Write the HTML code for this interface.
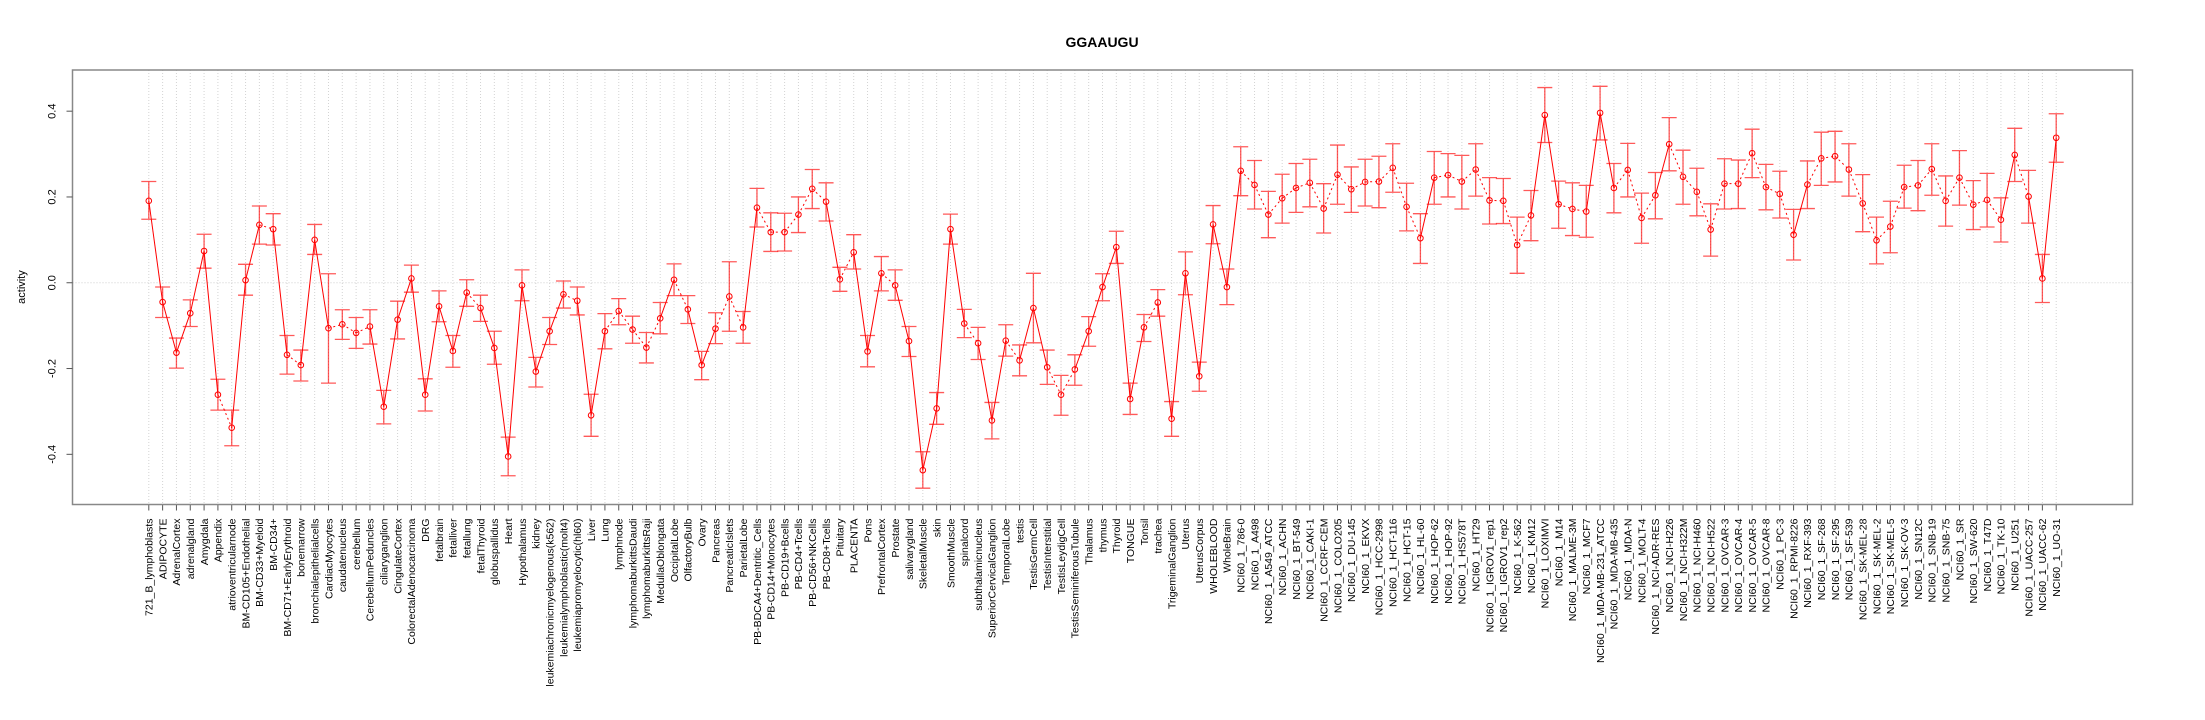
<!DOCTYPE html>
<html><head><meta charset="utf-8"><style>
html,body{margin:0;padding:0;background:#fff;}
svg{display:block;font-family:"Liberation Sans",Arial,sans-serif;}
</style></head><body>
<svg id="chart" width="2205" height="720" xmlns="http://www.w3.org/2000/svg">
<text x="1102" y="47" text-anchor="middle" font-size="14" font-weight="bold">GGAAUGU</text>
<text transform="translate(25,287) rotate(-90)" text-anchor="middle" font-size="11">activity</text>
<g id="grid"></g>
<g id="marks"></g>
<g id="axes"></g>
</svg>
<script>
const categories = ["721_B_lymphoblasts","ADIPOCYTE","AdrenalCortex","adrenalgland","Amygdala","Appendix","atrioventricularnode","BM-CD105+Endothelial","BM-CD33+Myeloid","BM-CD34+","BM-CD71+EarlyErythroid","bonemarrow","bronchialepithelialcells","CardiacMyocytes","caudatenucleus","cerebellum","CerebellumPeduncles","ciliaryganglion","CingulateCortex","ColorectalAdenocarcinoma","DRG","fetalbrain","fetalliver","fetallung","fetalThyroid","globuspallidus","Heart","Hypothalamus","kidney","leukemiachronicmyelogenous(k562)","leukemialymphoblastic(molt4)","leukemiapromyelocytic(hl60)","Liver","Lung","lymphnode","lymphomaburkittsDaudi","lymphomaburkittsRaji","MedullaOblongata","OccipitalLobe","OlfactoryBulb","Ovary","Pancreas","PancreaticIslets","ParietalLobe","PB-BDCA4+Dentritic_Cells","PB-CD14+Monocytes","PB-CD19+Bcells","PB-CD4+Tcells","PB-CD56+NKCells","PB-CD8+Tcells","Pituitary","PLACENTA","Pons","PrefrontalCortex","Prostate","salivarygland","SkeletalMuscle","skin","SmoothMuscle","spinalcord","subthalamicnucleus","SuperiorCervicalGanglion","TemporalLobe","testis","TestisGermCell","TestisInterstitial","TestisLeydigCell","TestisSeminiferousTubule","Thalamus","thymus","Thyroid","TONGUE","Tonsil","trachea","TrigeminalGanglion","Uterus","UterusCorpus","WHOLEBLOOD","WholeBrain","NCI60_1_786-0","NCI60_1_A498","NCI60_1_A549_ATCC","NCI60_1_ACHN","NCI60_1_BT-549","NCI60_1_CAKI-1","NCI60_1_CCRF-CEM","NCI60_1_COLO205","NCI60_1_DU-145","NCI60_1_EKVX","NCI60_1_HCC-2998","NCI60_1_HCT-116","NCI60_1_HCT-15","NCI60_1_HL-60","NCI60_1_HOP-62","NCI60_1_HOP-92","NCI60_1_HS578T","NCI60_1_HT29","NCI60_1_IGROV1_rep1","NCI60_1_IGROV1_rep2","NCI60_1_K-562","NCI60_1_KM12","NCI60_1_LOXIMVI","NCI60_1_M14","NCI60_1_MALME-3M","NCI60_1_MCF7","NCI60_1_MDA-MB-231_ATCC","NCI60_1_MDA-MB-435","NCI60_1_MDA-N","NCI60_1_MOLT-4","NCI60_1_NCI-ADR-RES","NCI60_1_NCI-H226","NCI60_1_NCI-H322M","NCI60_1_NCI-H460","NCI60_1_NCI-H522","NCI60_1_OVCAR-3","NCI60_1_OVCAR-4","NCI60_1_OVCAR-5","NCI60_1_OVCAR-8","NCI60_1_PC-3","NCI60_1_RPMI-8226","NCI60_1_RXF-393","NCI60_1_SF-268","NCI60_1_SF-295","NCI60_1_SF-539","NCI60_1_SK-MEL-28","NCI60_1_SK-MEL-2","NCI60_1_SK-MEL-5","NCI60_1_SK-OV-3","NCI60_1_SN12C","NCI60_1_SNB-19","NCI60_1_SNB-75","NCI60_1_SR","NCI60_1_SW-620","NCI60_1_T47D","NCI60_1_TK-10","NCI60_1_U251","NCI60_1_UACC-257","NCI60_1_UACC-62","NCI60_1_UO-31"];
const meanValues = [0.191,-0.045,-0.163,-0.071,0.074,-0.261,-0.338,0.006,0.135,0.125,-0.168,-0.192,0.1,-0.106,-0.097,-0.117,-0.102,-0.289,-0.086,0.01,-0.261,-0.055,-0.159,-0.023,-0.059,-0.152,-0.405,-0.006,-0.207,-0.113,-0.027,-0.042,-0.309,-0.113,-0.066,-0.109,-0.151,-0.083,0.007,-0.062,-0.192,-0.107,-0.032,-0.104,0.175,0.118,0.118,0.159,0.219,0.189,0.008,0.071,-0.16,0.022,-0.006,-0.136,-0.437,-0.293,0.125,-0.095,-0.141,-0.321,-0.135,-0.181,-0.059,-0.197,-0.261,-0.202,-0.113,-0.01,0.083,-0.271,-0.104,-0.046,-0.317,0.022,-0.218,0.136,-0.01,0.261,0.228,0.159,0.197,0.221,0.233,0.173,0.252,0.218,0.235,0.236,0.268,0.177,0.104,0.245,0.251,0.236,0.264,0.192,0.191,0.088,0.157,0.391,0.183,0.172,0.166,0.396,0.221,0.263,0.151,0.204,0.323,0.247,0.212,0.124,0.231,0.231,0.302,0.223,0.207,0.112,0.229,0.29,0.295,0.264,0.185,0.099,0.131,0.223,0.227,0.265,0.191,0.245,0.182,0.193,0.147,0.298,0.201,0.01,0.338];
const upperValues = [0.236,-0.01,-0.129,-0.04,0.113,-0.225,-0.297,0.043,0.179,0.161,-0.123,-0.157,0.136,0.021,-0.063,-0.081,-0.063,-0.251,-0.043,0.041,-0.224,-0.019,-0.123,0.007,-0.029,-0.113,-0.36,0.03,-0.174,-0.081,0.004,-0.01,-0.26,-0.072,-0.037,-0.078,-0.116,-0.046,0.044,-0.03,-0.16,-0.07,0.049,-0.067,0.22,0.163,0.162,0.2,0.264,0.233,0.036,0.112,-0.123,0.061,0.03,-0.102,-0.394,-0.256,0.16,-0.062,-0.104,-0.279,-0.098,-0.145,0.022,-0.157,-0.216,-0.168,-0.079,0.021,0.12,-0.234,-0.074,-0.016,-0.277,0.072,-0.185,0.18,0.032,0.317,0.285,0.213,0.253,0.278,0.288,0.231,0.321,0.27,0.288,0.295,0.324,0.232,0.161,0.306,0.301,0.297,0.324,0.245,0.243,0.153,0.215,0.455,0.237,0.233,0.227,0.458,0.278,0.325,0.209,0.257,0.385,0.309,0.267,0.184,0.289,0.286,0.358,0.276,0.26,0.171,0.284,0.351,0.353,0.324,0.252,0.153,0.19,0.274,0.285,0.324,0.249,0.308,0.238,0.255,0.198,0.36,0.262,0.066,0.394];
const lowerValues = [0.148,-0.081,-0.199,-0.102,0.034,-0.297,-0.38,-0.029,0.09,0.088,-0.213,-0.229,0.066,-0.234,-0.132,-0.153,-0.143,-0.329,-0.131,-0.022,-0.299,-0.091,-0.197,-0.055,-0.09,-0.19,-0.45,-0.042,-0.243,-0.144,-0.059,-0.075,-0.358,-0.154,-0.098,-0.141,-0.187,-0.119,-0.03,-0.095,-0.226,-0.142,-0.113,-0.141,0.13,0.073,0.074,0.117,0.173,0.144,-0.02,0.032,-0.196,-0.019,-0.041,-0.172,-0.479,-0.33,0.09,-0.128,-0.179,-0.364,-0.171,-0.217,-0.14,-0.237,-0.309,-0.239,-0.148,-0.042,0.045,-0.307,-0.137,-0.078,-0.358,-0.028,-0.253,0.091,-0.051,0.203,0.172,0.105,0.139,0.164,0.177,0.116,0.183,0.164,0.179,0.175,0.211,0.121,0.045,0.183,0.2,0.172,0.202,0.137,0.138,0.022,0.098,0.327,0.127,0.11,0.106,0.333,0.163,0.2,0.092,0.149,0.261,0.183,0.156,0.062,0.172,0.173,0.245,0.17,0.151,0.053,0.173,0.227,0.235,0.202,0.119,0.044,0.07,0.174,0.168,0.204,0.132,0.181,0.124,0.13,0.095,0.236,0.139,-0.046,0.281];
const yTickValues = [-0.4,-0.2,0.0,0.2,0.4];
const yTickLabels = ["-0.4","-0.2","0.0","0.2","0.4"];

const NS = "http://www.w3.org/2000/svg";
const L = 72.5, R = 2132.5, T = 70, B = 504.5;
const n = categories.length;
const xmin = 1 - 0.04*(n-1), xmax = n + 0.04*(n-1);
const ymin = -0.517, ymax = 0.496;
function xs(i){ return L + ((i+1) - xmin) / (xmax - xmin) * (R - L); }
function ys(v){ return B - (v - ymin) / (ymax - ymin) * (B - T); }
function mk(tag, attrs, parent){ const e=document.createElementNS(NS,tag); for(const k in attrs) e.setAttribute(k,attrs[k]); parent.appendChild(e); return e; }
const grid=document.getElementById('grid'), marks=document.getElementById('marks'), axes=document.getElementById('axes');

for(let i=0;i<n;i++){
  const g = mk('line',{x1:xs(i),x2:xs(i),y1:T,y2:B,stroke:'#d3d3d3','stroke-width':1,'stroke-dasharray':'1,2'},grid);
  
  
}
const zl = mk('line',{x1:L,x2:R,y1:ys(0),y2:ys(0),stroke:'#cfcfcf','stroke-width':1,'stroke-dasharray':'1,2'},grid);



for(let i=0;i<n-1;i++){
  const overlap = !(lowerValues[i] > upperValues[i+1] || lowerValues[i+1] > upperValues[i]);
  const s = mk('line',{x1:xs(i),y1:ys(meanValues[i]),x2:xs(i+1),y2:ys(meanValues[i+1]),stroke:'#ff0000','stroke-width':1},marks);
  if(overlap) s.setAttribute('stroke-dasharray','2,3');
  
  
}
for(let i=0;i<n;i++){
  const x=xs(i);
  const eb = mk('path',{d:`M${x},${ys(upperValues[i])}V${ys(lowerValues[i])}M${x-7.5},${ys(upperValues[i])}H${x+7.5}M${x-7.5},${ys(lowerValues[i])}H${x+7.5}`,stroke:'#ff0000','stroke-opacity':0.65,'stroke-width':1.3,fill:'none'},marks);
  
  
  const c = mk('circle',{cx:x,cy:ys(meanValues[i]),r:2.8,fill:'none',stroke:'#ff0000','stroke-width':1},marks);
  
  
  const tk = mk('line',{x1:x,x2:x,y1:B,y2:B+6,stroke:'#555','stroke-width':1},axes);
  
  
  const t = mk('text',{transform:`translate(${x+3.8},${B+14}) rotate(-90)`,'text-anchor':'end','font-size':'10.5',fill:'#000'},axes);
  t.textContent = categories[i];
  
  
}
const box = mk('rect',{x:L,y:T,width:R-L,height:B-T,fill:'none',stroke:'#888','stroke-width':1.5},axes);


for(let k=0;k<yTickValues.length;k++){
  const y=ys(yTickValues[k]);
  const tk = mk('line',{x1:L-6,x2:L,y1:y,y2:y,stroke:'#555','stroke-width':1},axes);
  
  
  const t = mk('text',{transform:`translate(${L-17},${y}) rotate(-90)`,'text-anchor':'middle','font-size':'11',fill:'#000'},axes);
  t.textContent = yTickLabels[k];
  
  
}
</script>
</body></html>
